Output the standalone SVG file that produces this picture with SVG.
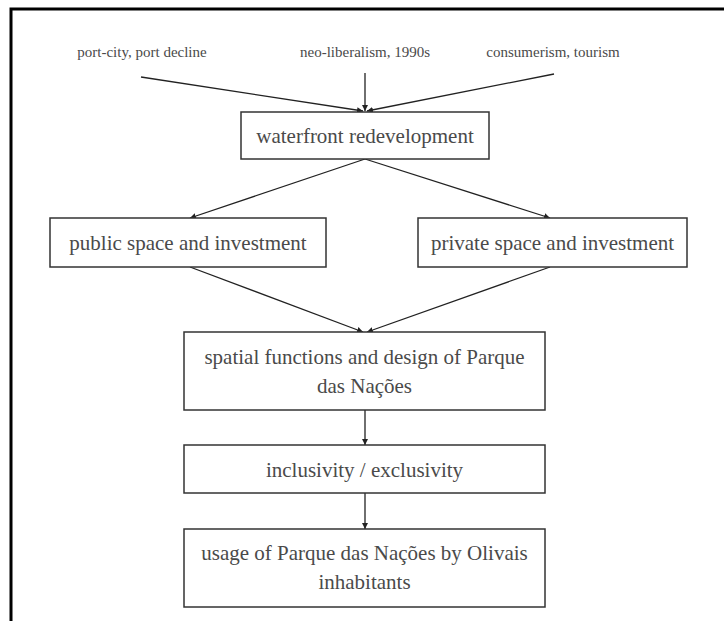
<svg xmlns="http://www.w3.org/2000/svg" width="724" height="621" viewBox="0 0 724 621">
<style>
  .frame { fill: none; stroke: #000; stroke-width: 3; }
  .box { fill: #fff; stroke: #333; stroke-width: 1.5; }
  .lbl { font-family: "Liberation Serif", "Times New Roman", serif; fill: #4a4a4a; text-anchor: middle; }
  .small { font-size: 15px; }
  .big { font-size: 21px; }
  .conn { stroke: #222; stroke-width: 1.3; fill: none; marker-end: url(#arr); }
</style>
<defs>
  <marker id="arr" viewBox="0 0 10 10" refX="10" refY="5" markerWidth="6" markerHeight="6" markerUnits="userSpaceOnUse" orient="auto">
    <path d="M0,0 L10,5 L0,10 z" fill="#222"/>
  </marker>
</defs>
<rect width="724" height="621" fill="#fff"/>
<rect class="frame" x="11" y="9" width="730" height="630"/>

<g id="n-port">
  <text class="lbl small" x="142" y="57">port-city, port decline</text>
</g>
<g id="n-neo">
  <text class="lbl small" x="365" y="57">neo-liberalism, 1990s</text>
</g>
<g id="n-consum">
  <text class="lbl small" x="553" y="57">consumerism, tourism</text>
</g>

<g id="connectors">
  <line class="conn" x1="141" y1="77" x2="363" y2="111"/>
  <line class="conn" x1="365" y1="73" x2="365" y2="111"/>
  <line class="conn" x1="554" y1="74" x2="367" y2="111"/>
  <line class="conn" x1="365" y1="159" x2="190" y2="218"/>
  <line class="conn" x1="365" y1="159" x2="550" y2="218"/>
  <line class="conn" x1="190" y1="267" x2="363" y2="332"/>
  <line class="conn" x1="550" y1="267" x2="367" y2="332"/>
  <line class="conn" x1="365" y1="410" x2="365" y2="445"/>
  <line class="conn" x1="365" y1="493" x2="365" y2="529"/>
</g>

<g id="n-waterfront">
  <rect class="box" x="241" y="112" width="248" height="47"/>
  <text class="lbl big" x="365" y="143">waterfront redevelopment</text>
</g>
<g id="n-public">
  <rect class="box" x="50" y="218" width="276" height="49"/>
  <text class="lbl big" x="188" y="250">public space and investment</text>
</g>
<g id="n-private">
  <rect class="box" x="418" y="218" width="269" height="49"/>
  <text class="lbl big" x="552.5" y="250">private space and investment</text>
</g>
<g id="n-spatial">
  <rect class="box" x="184" y="332" width="361" height="78"/>
  <text class="lbl big" x="364.5" y="364">spatial functions and design of Parque</text>
  <text class="lbl big" x="364.5" y="393">das Nações</text>
</g>
<g id="n-inclusivity">
  <rect class="box" x="184" y="445" width="361" height="48"/>
  <text class="lbl big" x="364.5" y="477">inclusivity / exclusivity</text>
</g>
<g id="n-usage">
  <rect class="box" x="184" y="529" width="361" height="78"/>
  <text class="lbl big" x="364.5" y="560">usage of Parque das Nações by Olivais</text>
  <text class="lbl big" x="364.5" y="589">inhabitants</text>
</g>
</svg>
